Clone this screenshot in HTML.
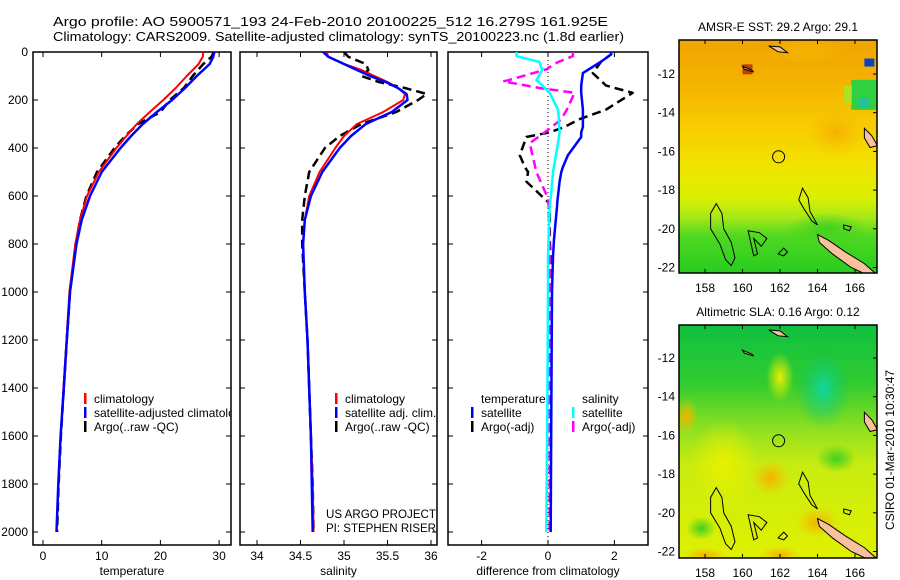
<!DOCTYPE html>
<html><head><meta charset="utf-8"><style>
html,body{margin:0;padding:0;background:#fff;}
svg{display:block;font-family:"Liberation Sans",sans-serif;}
</style></head><body>
<svg id="fig" width="900" height="580" viewBox="0 0 900 580" xmlns="http://www.w3.org/2000/svg">
<defs>
<clipPath id="c1"><rect x="33" y="52" width="198" height="493"/></clipPath>
<clipPath id="c2"><rect x="240" y="52" width="197" height="493"/></clipPath>
<clipPath id="c3"><rect x="448" y="52" width="200" height="493"/></clipPath>
<clipPath id="m1"><rect x="679" y="40" width="198" height="233"/></clipPath>
<clipPath id="m2"><rect x="679" y="325" width="198" height="233"/></clipPath>
<linearGradient id="g1" x1="0" y1="0" x2="0" y2="1">
<stop offset="0" stop-color="#f0a400"/><stop offset="0.2" stop-color="#f5b400"/><stop offset="0.4" stop-color="#f8d000"/><stop offset="0.55" stop-color="#f0e400"/><stop offset="0.68" stop-color="#d8f000"/><stop offset="0.76" stop-color="#a8e818"/><stop offset="0.84" stop-color="#50d820"/><stop offset="1" stop-color="#28cc20"/></linearGradient>
<linearGradient id="g2" x1="0" y1="0" x2="0" y2="1">
<stop offset="0" stop-color="#10c040"/><stop offset="0.25" stop-color="#30cc30"/><stop offset="0.45" stop-color="#90e020"/><stop offset="0.6" stop-color="#c8ec10"/><stop offset="1" stop-color="#e0f000"/></linearGradient>
<radialGradient id="teal"><stop offset="0" stop-color="#10d8a0"/><stop offset="1" stop-color="#10c060" stop-opacity="0"/></radialGradient>
<radialGradient id="orng"><stop offset="0" stop-color="#f5b000"/><stop offset="1" stop-color="#f5c000" stop-opacity="0"/></radialGradient>
<radialGradient id="grn"><stop offset="0" stop-color="#40d020"/><stop offset="1" stop-color="#40d020" stop-opacity="0"/></radialGradient>
<radialGradient id="ylw"><stop offset="0" stop-color="#e8f000"/><stop offset="1" stop-color="#e8f000" stop-opacity="0"/></radialGradient>
</defs>
<text x="53" y="26" font-size="13" textLength="555" lengthAdjust="spacingAndGlyphs">Argo profile: AO 5900571_193 24-Feb-2010 20100225_512 16.279S 161.925E</text>
<text x="53" y="41" font-size="13" textLength="571" lengthAdjust="spacingAndGlyphs">Climatology: CARS2009. Satellite-adjusted climatology: synTS_20100223.nc (1.8d earlier)</text>
<g id="plots"></g>
<g id="maps"></g>
<text transform="translate(894,450) rotate(-90)" text-anchor="middle" font-size="12">CSIRO 01-Mar-2010 10:30:47</text>
</svg>
<script>
// ---- data ----
const depthTicks = [0,200,400,600,800,1000,1200,1400,1600,1800,2000];
const tempTicks = [0,10,20,30];
const salTicks = [34,34.5,35,35.5,36];
const salTickLabels = ["34","34.5","35","35.5","36"];
const diffTicks = [-2,0,2];
// temperature profiles
const tDepth = [0,20,50,100,150,200,250,300,350,400,500,600,700,800,1000,1200,1400,1600,1800,2000];
const tClim  = [27.3,27.2,26.5,24.5,22.6,20.5,18.2,16,14.2,12.5,9.5,7.5,6.3,5.5,4.5,4.0,3.5,3.0,2.6,2.3];
const tSat   = [29.2,29.0,28.4,26.2,24.2,22,19.4,17,15,13.2,10,8,6.6,5.7,4.6,4.05,3.55,3.0,2.6,2.3];
const tArgo  = [29.1,28.7,27.3,25.5,24.0,21.6,20.0,16.2,14.0,12.2,9.2,7.4,6.3,5.6,4.6,4.05,3.55,3.05,2.65,2.4];
// salinity profiles
const sDepth = [0,20,50,75,100,125,150,175,200,250,300,350,400,500,600,700,800,1000,1200,1400,1600,1800,2000];
const sClim = [34.80,34.82,35.0,35.2,35.35,35.5,35.62,35.7,35.68,35.45,35.15,35.0,34.9,34.72,34.6,34.55,34.53,34.55,34.58,34.6,34.62,34.64,34.65];
const sSat  = [34.76,34.82,35.0,35.15,35.3,35.48,35.62,35.72,35.73,35.55,35.25,35.08,34.95,34.75,34.62,34.55,34.53,34.55,34.58,34.6,34.62,34.63,34.64];
const sArgo = [35.0,35.05,35.25,35.28,35.2,35.4,35.7,35.95,35.85,35.6,35.2,34.95,34.78,34.6,34.55,34.52,34.52,34.55,34.58,34.6,34.62,34.64,34.65];
// differences from climatology
const dDepthT = [0,10,40,88,140,170,240,280,312,335,354,430,479,500,540,625,646,780,854,1000,1500,2000];
const dTSat   = [1.9,1.9,1.6,1.05,1.0,1.0,1.05,1.05,1.05,1.0,1.0,0.6,0.45,0.4,0.35,0.28,0.27,0.18,0.15,0.12,0.1,0.08];
const dTArgo  = [1.9,1.9,1.6,1.35,1.75,2.55,1.75,0.95,0.5,0.05,-0.65,-0.85,-0.7,-0.6,-0.65,0.0,0.05,0.05,0.08,0.06,0.06,0.05];
const dDepthS = [0,17,42,67,70,118,122,150,170,240,280,295,335,380,500,610,640,850,1000,1500,2000];
const dSSat   = [-0.95,-0.95,-0.25,-0.2,-0.15,-0.35,-0.3,-0.1,0.05,0.3,0.33,0.33,0.35,0.3,0.15,0.08,0.05,0.0,0.0,-0.02,-0.05];
const dSArgo  = [0.75,0.75,0.3,0.0,0.0,-1.2,-1.35,-0.25,0.8,0.57,0.4,0.27,-0.1,-0.55,-0.35,0.0,0.02,0.05,0.05,0.05,0.05];

const NS = "http://www.w3.org/2000/svg";
const plots = document.getElementById('plots');
function mk(tag, attrs, parent){ const e=document.createElementNS(NS,tag); for(const k in attrs) e.setAttribute(k,attrs[k]); (parent||plots).appendChild(e); return e; }
const yDepth = d => 52 + d*0.24;
const panels = [
  {x0:33,x1:231,clip:'c1',xs:v=>43+v*5.87,ticks:tempTicks,labels:tempTicks.map(String),title:'temperature',name:'temperature'},
  {x0:240,x1:437,clip:'c2',xs:v=>257+(v-34)*87,ticks:salTicks,labels:salTickLabels,title:'salinity',name:'salinity'},
  {x0:448,x1:648,clip:'c3',xs:v=>548+v*33.2,ticks:diffTicks,labels:diffTicks.map(String),title:'difference from climatology',name:'difference'}
];
function line(p, depths, vals, color, w, dash, nm){
  const pts = depths.map((d,i)=>p.xs(vals[i]).toFixed(1)+','+yDepth(d).toFixed(1)).join(' ');
  const el = mk('polyline',{points:pts,fill:'none',stroke:color,'stroke-width':w,'clip-path':'url(#'+p.clip+')','stroke-linejoin':'round'});
  if(dash) el.setAttribute('stroke-dasharray',dash);
  
  
}
panels.forEach((p,pi)=>{
  const g = mk('g',{});
  
  
  mk('rect',{x:p.x0,y:52,width:p.x1-p.x0,height:493,fill:'none',stroke:'#000','stroke-width':1.5},g);
  depthTicks.forEach(d=>{
    const y=yDepth(d);
    mk('line',{x1:p.x0,x2:p.x0+5,y1:y,y2:y,stroke:'#000'},g);
    mk('line',{x1:p.x1-5,x2:p.x1,y1:y,y2:y,stroke:'#000'},g);
    if(pi===0){ const t=mk('text',{x:28,y:y+4,'font-size':12,'text-anchor':'end'},g); t.textContent=d; }
  });
  p.ticks.forEach((v,i)=>{
    const x=p.xs(v);
    mk('line',{x1:x,x2:x,y1:52,y2:57,stroke:'#000'},g);
    mk('line',{x1:x,x2:x,y1:540,y2:545,stroke:'#000'},g);
    const t=mk('text',{x:x,y:560,'font-size':12,'text-anchor':'middle'},g); t.textContent=p.labels[i];
  });
  const tt=mk('text',{x:(p.x0+p.x1)/2,y:575,'font-size':12,'text-anchor':'middle'},g); tt.textContent=p.title;
});
line(panels[0], tDepth, tArgo, '#000', 2.5, '9,5', 'argo-temperature-line');
line(panels[0], tDepth, tClim, '#f00', 2, null, 'climatology-temperature-line');
line(panels[0], tDepth, tSat, '#00f', 2.5, null, 'satellite-temperature-line');
line(panels[1], sDepth, sArgo, '#000', 2.5, '9,5', 'argo-salinity-line');
line(panels[1], sDepth, sClim, '#f00', 2, null, 'climatology-salinity-line');
line(panels[1], sDepth, sSat, '#00f', 2.5, null, 'satellite-salinity-line');
const z = mk('line',{x1:548,x2:548,y1:52,y2:545,stroke:'#000','stroke-dasharray':'1,3'});
 
line(panels[2], dDepthT, dTArgo, '#000', 2.5, '9,5', 'argo-temperature-diff-line');
line(panels[2], dDepthS, dSArgo, '#f0f', 2.5, '9,5', 'argo-salinity-diff-line');
line(panels[2], dDepthT, dTSat, '#00f', 2.5, null, 'satellite-temperature-diff-line');
line(panels[2], dDepthS, dSSat, '#0ff', 2.5, null, 'satellite-salinity-diff-line');

function legendEntry(x,y,color,text,nm,clip,len){
  const g=mk('g',clip?{'clip-path':'url(#'+clip+')'}:{});
  
  
  if(color) mk('rect',{x:x-10,y:y-10,width:2.5,height:11,fill:color},g);
  const t=mk('text',{x:x,y:y,'font-size':12},g); t.textContent=text;
  if(len){ t.setAttribute('textLength',len); t.setAttribute('lengthAdjust','spacingAndGlyphs'); }
}
legendEntry(94,403,'#f00','climatology','legend-climatology','c1');
legendEntry(94,417,'#00f','satellite-adjusted climatology','legend-satellite','c1');
legendEntry(94,431,'#000','Argo(..raw -QC)','legend-argo','c1');
legendEntry(345,403,'#f00','climatology','legend-climatology-2','c2');
legendEntry(345,417,'#00f','satellite adj. clim.','legend-satellite-2','c2');
legendEntry(345,431,'#000','Argo(..raw -QC)','legend-argo-2','c2');
legendEntry(481,403,null,'temperature','legend-temperature-header');
legendEntry(481,417,'#00f','satellite','legend-temp-satellite');
legendEntry(481,431,'#000','Argo(-adj)','legend-temp-argo');
legendEntry(582,403,null,'salinity','legend-salinity-header');
legendEntry(582,417,'#0ff','satellite','legend-sal-satellite');
legendEntry(582,431,'#f0f','Argo(-adj)','legend-sal-argo');
legendEntry(326,518,null,'US ARGO PROJECT','project-label','c2',110);
legendEntry(326,532,null,'PI: STEPHEN RISER','pi-label','c2',110);

// ---- maps ----
const maps = document.getElementById('maps');
const lonTicks = [158,160,162,164,166];
const latTicks = [-12,-14,-16,-18,-20,-22];
function drawMap(top, latTop, clip, fill, title, nm, extras){
  const X = lon => 705+(lon-158)*18.75;
  const Y = la => latTop+(-12-la)*19.35;
  const g=mk('g',{},maps);
  
  
  const inner=mk('g',{'clip-path':'url(#'+clip+')'},g);
  mk('rect',{x:679,y:top,width:198,height:233,fill:fill},inner);
  extras(inner,X,Y);
  const reef = (pts)=>mk('polygon',{points:pts.map(p=>X(p[0])+','+Y(p[1])).join(' '),fill:'none',stroke:'#000','stroke-width':1},inner);
  reef([[158.6,-18.7],[158.9,-19.2],[159.0,-20.0],[159.4,-20.7],[159.6,-21.5],[159.4,-21.9],[159.1,-21.6],[158.8,-20.8],[158.3,-20.0],[158.3,-19.2]]);
  reef([[163.2,-17.9],[163.5,-18.4],[163.6,-19.1],[164.0,-19.8],[163.7,-19.6],[163.3,-19.0],[163.0,-18.5]]);
  reef([[160.3,-20.1],[160.9,-20.2],[161.3,-20.5],[161.0,-20.9],[160.6,-20.5],[160.8,-21.3],[160.6,-21.4]]);
  reef([[162.2,-21.0],[162.4,-21.2],[162.2,-21.4],[161.9,-21.3]]);
  reef([[165.4,-19.8],[165.8,-19.9],[165.7,-20.1],[165.4,-20.0]]);
  const isl = (pts)=>mk('polygon',{points:pts.map(p=>X(p[0])+','+Y(p[1])).join(' '),fill:'#f8c09c',stroke:'#000','stroke-width':1},inner);
  isl([[164.0,-20.3],[164.6,-20.6],[165.5,-21.2],[166.5,-21.8],[167.2,-22.4],[166.9,-22.5],[165.8,-22.0],[164.8,-21.3],[164.1,-20.7]]);
  isl([[161.4,-10.55],[162.0,-10.6],[162.4,-10.9],[161.9,-10.85]]);
  isl([[166.5,-14.8],[166.9,-15.2],[167.2,-15.7],[166.8,-15.8],[166.5,-15.3]]);
  isl([[160.0,-11.6],[160.5,-11.8],[160.6,-11.9],[160.1,-11.75]]);
  mk('circle',{cx:X(161.925),cy:Y(-16.279),r:6,fill:'none',stroke:'#000','stroke-width':1},inner);
  mk('rect',{x:679,y:top,width:198,height:233,fill:'none',stroke:'#000','stroke-width':1.5},g);
  lonTicks.forEach(l=>{
    const x=X(l);
    mk('line',{x1:x,x2:x,y1:top,y2:top+4,stroke:'#000'},g);
    mk('line',{x1:x,x2:x,y1:top+229,y2:top+233,stroke:'#000'},g);
    const t=mk('text',{x:x,y:top+252,'font-size':12,'text-anchor':'middle'},g); t.textContent=l;
  });
  latTicks.forEach(la=>{
    const y=Y(la);
    mk('line',{x1:873,x2:877,y1:y,y2:y,stroke:'#000'},g);
    const t=mk('text',{x:675,y:y+4,'font-size':12,'text-anchor':'end'},g); t.textContent=la;
  });
  const tt=mk('text',{x:778,y:top-9,'font-size':12,'text-anchor':'middle'},g); tt.textContent=title;
}
drawMap(40, 74, 'm1', 'url(#g1)', 'AMSR-E SST: 29.2 Argo: 29.1', 'sst-map', (g,X,Y)=>{
  mk('ellipse',{cx:X(165),cy:Y(-15),rx:30,ry:25,fill:'url(#orng)'},g);
  mk('ellipse',{cx:X(163.5),cy:Y(-10.8),rx:40,ry:12,fill:'url(#orng)'},g);
  mk('rect',{x:X(165.8),y:Y(-12.3),width:26,height:30,fill:'#30d040'},g);
  mk('rect',{x:X(166.5),y:Y(-11.2),width:10,height:8,fill:'#1040c0'},g);
  mk('rect',{x:X(166.2),y:Y(-13.2),width:10,height:10,fill:'#20c0a0'},g);
  mk('rect',{x:X(165.4),y:Y(-12.6),width:8,height:18,fill:'#b0e020'},g);
  mk('rect',{x:X(160),y:Y(-11.5),width:10,height:10,fill:'#c04000'},g);
  mk('ellipse',{cx:X(164.5),cy:Y(-20),rx:40,ry:16,fill:'url(#grn)'},g);
});
drawMap(325, 358, 'm2', 'url(#g2)', 'Altimetric SLA: 0.16 Argo: 0.12', 'sla-map', (g,X,Y)=>{
  mk('ellipse',{cx:X(164.3),cy:Y(-13.6),rx:28,ry:40,fill:'url(#teal)'},g);
  mk('ellipse',{cx:X(159),cy:Y(-17.5),rx:35,ry:45,fill:'url(#ylw)'},g);
  mk('ellipse',{cx:X(162),cy:Y(-13),rx:14,ry:25,fill:'url(#ylw)'},g);
  mk('ellipse',{cx:X(157),cy:Y(-15),rx:12,ry:18,fill:'url(#orng)'},g);
  mk('ellipse',{cx:X(161.5),cy:Y(-18.2),rx:20,ry:18,fill:'url(#orng)'},g);
  mk('ellipse',{cx:X(164),cy:Y(-20.5),rx:22,ry:16,fill:'url(#orng)'},g);
  mk('ellipse',{cx:X(162),cy:Y(-22.2),rx:20,ry:10,fill:'url(#orng)'},g);
  mk('ellipse',{cx:X(158),cy:Y(-22.2),rx:22,ry:8,fill:'url(#orng)'},g);
  mk('ellipse',{cx:X(165),cy:Y(-17.2),rx:20,ry:14,fill:'url(#grn)'},g);
  mk('ellipse',{cx:X(157.8),cy:Y(-20.8),rx:15,ry:12,fill:'url(#grn)'},g);
});
</script>
</body></html>
